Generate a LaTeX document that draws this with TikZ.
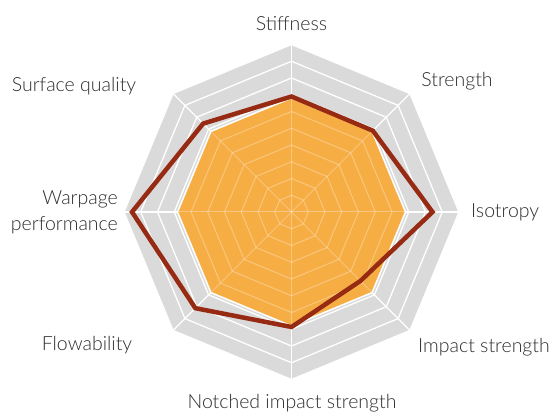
\documentclass[tikz,border=0pt]{standalone}
\usepackage{fontspec}
\setmainfont{Lato Light}
\definecolor{gridgray}{RGB}{218,218,218}
\definecolor{fillorange}{RGB}{246,174,68}
\definecolor{linered}{RGB}{150,42,18}
\definecolor{labelgray}{RGB}{45,45,45}
\tikzset{
  label text/.style={text=labelgray, font=\fontsize{19.5}{26}\selectfont, inner sep=0pt},
  ring/.style={draw=white, line width=1.3pt},
  inner ring/.style={draw=white, draw opacity=0.3, line width=1pt}
}

\begin{document}
\begin{tikzpicture}[x=1pt, y=1pt]
    \useasboundingbox (0,0) rectangle (551,414);
    \begin{scope}[shift={(291.5,202)}]
        % grey background with rings and spokes
        \fill [gridgray] (0:167.5) \foreach \a in {45,90,...,315} {-- (\a:167.5)} -- cycle;
        \foreach \i in {1,...,10}
            \draw [ring] (0:{\i*16.75}) \foreach \a in {45,90,...,315} {-- (\a:{\i*16.75})} -- cycle;
        \foreach \a in {0,45,...,315}
            \draw [ring] (0,0) -- (\a:167.5);
        % orange area
        \filldraw [fill=fillorange, draw=white, line width=1.5pt] (0:114) \foreach \a in {45,90,...,315} {-- (\a:114)} -- cycle;
        \foreach \i in {1,...,6}
            \draw [inner ring] (0:{\i*16.75}) \foreach \a in {45,90,...,315} {-- (\a:{\i*16.75})} -- cycle;
        \foreach \a in {0,45,...,315}
            \draw [inner ring] (0,0) -- (\a:113);
        % red line
        \draw [linered, line width=4.5pt, line join=miter]
            (90:115.5) -- (45:115) -- (0:141) -- (-45:97.5) -- (-90:115)
            -- (-135:136) -- (180:159.5) -- (135:125) -- cycle;
    \end{scope}
    \node [label text] (stiff) at (291.5,390) {Stiffness};
    \node [label text] (strength) at (457,333) {Strength};
    \node [label text] (surface) at (74,328) {Surface quality};
    \node [label text, anchor=west] (iso) at (471,202) {Isotropy};
    \node [label text, align=right, anchor=east] (warp) at (118,202) {Warpage\\performance};
    \node [label text] (impact) at (484,67) {Impact strength};
    \node [label text] (flow) at (87,69) {Flowability};
    \node [label text] (notched) at (292,11) {Notched impact strength};
\end{tikzpicture}
\end{document}
